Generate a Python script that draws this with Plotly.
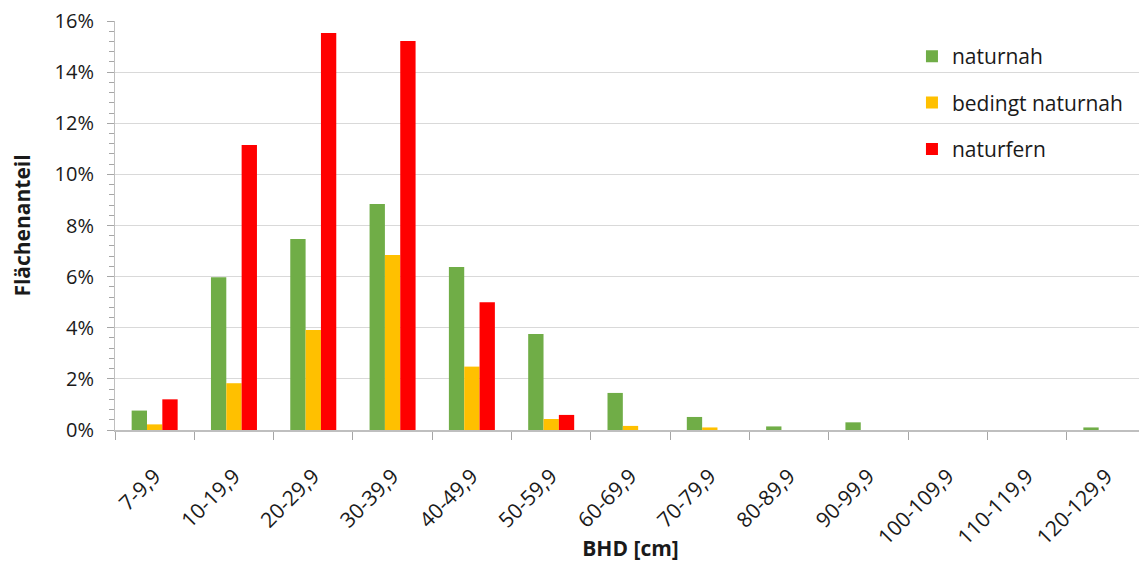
import plotly.graph_objects as go

categories = ["7-9,9", "10-19,9", "20-29,9", "30-39,9", "40-49,9", "50-59,9",
              "60-69,9", "70-79,9", "80-89,9", "90-99,9", "100-109,9",
              "110-119,9", "120-129,9"]
naturnah = [0.76, 5.98, 7.47, 8.84, 6.38, 3.76, 1.45, 0.51, 0.14, 0.30, 0.0, 0.0, 0.10]
bedingt_naturnah = [0.22, 1.83, 3.91, 6.85, 2.48, 0.43, 0.16, 0.10, 0.0, 0.0, 0.0, 0.0, 0.0]
naturfern = [1.20, 11.15, 15.53, 15.22, 5.00, 0.59, 0.0, 0.0, 0.0, 0.0, 0.0, 0.0, 0.0]
y_ticks = [0, 2, 4, 6, 8, 10, 12, 14, 16]
y_tick_labels = ["0%", "2%", "4%", "6%", "8%", "10%", "12%", "14%", "16%"]

FONT = "Open Sans"
TXT = "#1a1a1a"

fig = go.Figure()
series = [("naturnah", naturnah, "#70AD47"),
          ("bedingt naturnah", bedingt_naturnah, "#FFC000"),
          ("naturfern", naturfern, "#FF0000")]
for name, vals, col in series:
    fig.add_trace(go.Bar(x=categories, y=vals, name=name, legendgroup=name,
                         marker=dict(color=col, line=dict(width=0))))

# page body has an 8px margin: shrink figure and top/left margins to compensate
fig.update_layout(
    width=1139, height=554,
    margin=dict(l=107, r=1, t=13, b=132, autoexpand=False),
    paper_bgcolor="white", plot_bgcolor="white",
    barmode="group", bargap=0.42, bargroupgap=0,
    font=dict(family=FONT, size=19, color=TXT),
    showlegend=True,
    legend=dict(x=0.773, y=0.963, xanchor="left", yanchor="top",
                font=dict(family=FONT, size=21, color=TXT),
                tracegroupgap=16, bgcolor="rgba(0,0,0,0)"),
    xaxis=dict(type="category", tickangle=-45, tickson="boundaries",
               ticks="outside", ticklen=8, tickcolor="#a6a6a6", tickwidth=1,
               showline=True, linecolor="#bfbfbf", linewidth=1.5,
               showgrid=False, automargin=False, ticklabelstandoff=24,
               tickfont=dict(family=FONT, size=21, color=TXT),
               title=dict(text="<b>BHD [cm]</b>", standoff=14,
                          font=dict(family=FONT, size=21, color=TXT))),
    yaxis=dict(range=[0, 16], tickvals=y_ticks, ticktext=y_tick_labels,
               ticks="outside", ticklen=7, tickcolor="#a6a6a6",
               showline=True, linecolor="#bfbfbf", linewidth=1,
               showgrid=True, gridcolor="#d9d9d9", gridwidth=1,
               zeroline=False, automargin=False, ticklabelstandoff=9,
               ticklabeloverflow="allow",
               minor=dict(dtick=0.4, ticks="outside", ticklen=5,
                          tickcolor="#a6a6a6", showgrid=False),
               tickfont=dict(family=FONT, size=20, color=TXT),
               title=dict(text="<b>Flächenanteil</b>", standoff=18,
                          font=dict(family=FONT, size=21, color=TXT))),
)

fig.write_html("out.html")
